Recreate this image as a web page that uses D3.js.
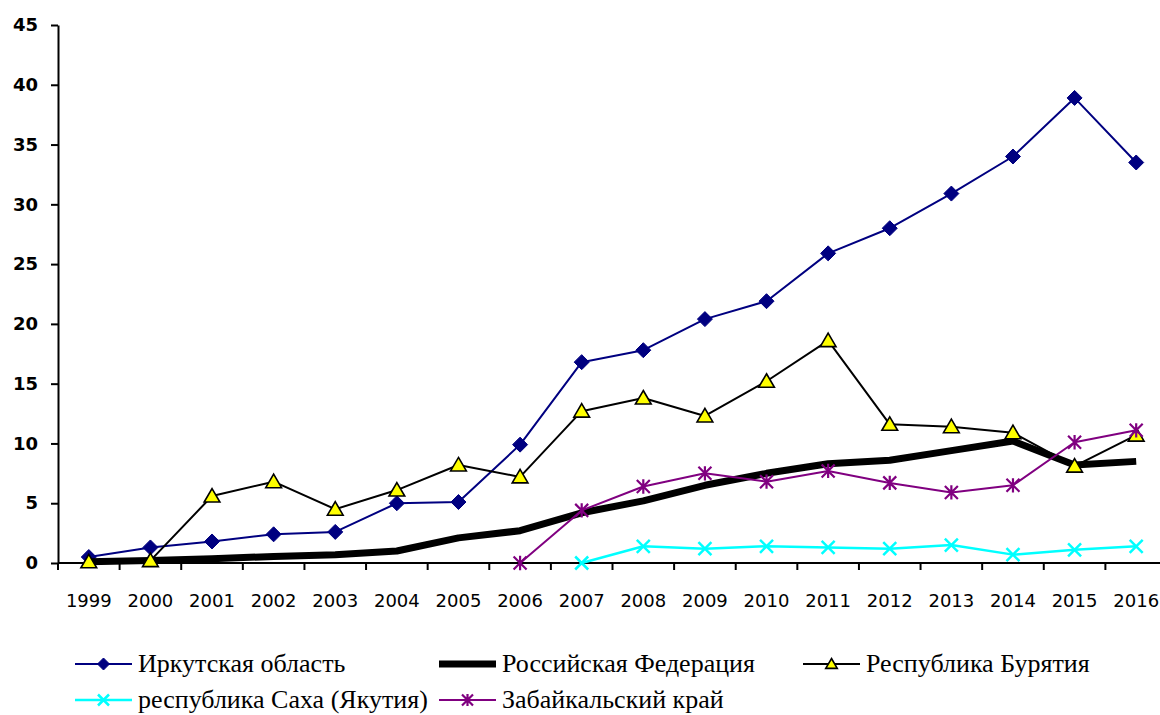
<!DOCTYPE html>
<html>
<head>
<meta charset="utf-8">
<script src="https://cdn.jsdelivr.net/npm/d3@7"></script>
<style>
  html, body { margin: 0; padding: 0; background: #fff; }
  svg { display: block; }
</style>
</head>
<body>
<svg id="chart" width="1160" height="715"></svg>
<script>
// Years on the category axis
const years = ["1999","2000","2001","2002","2003","2004","2005","2006","2007","2008",
               "2009","2010","2011","2012","2013","2014","2015","2016"];

// Value axis tick labels
const yTicks = [0, 5, 10, 15, 20, 25, 30, 35, 40, 45];

// Series values (null = no data for that year)
const irkutsk = [0.5, 1.3, 1.8, 2.4, 2.6, 5.0, 5.1, 9.9, 16.8, 17.8, 20.4, 21.9, 25.9, 28.0, 30.9, 34.0, 38.9, 33.5];
const russia  = [0.1, 0.2, 0.35, 0.55, 0.7, 1.0, 2.1, 2.7, 4.2, 5.2, 6.5, 7.5, 8.3, 8.6, 9.4, 10.2, 8.2, 8.5];
const buryatia = [0.1, 0.2, 5.6, 6.8, 4.5, 6.1, 8.2, 7.2, 12.7, 13.8, 12.3, 15.2, 18.6, 11.6, 11.4, 10.9, 8.1, 10.7];
const sakha = [null, null, null, null, null, null, null, null, 0.0, 1.4, 1.2, 1.4, 1.3, 1.2, 1.5, 0.7, 1.1, 1.4];
const zabaikal = [null, null, null, null, null, null, null, 0.0, 4.4, 6.4, 7.5, 6.8, 7.7, 6.7, 5.9, 6.5, 10.1, 11.1];

const seriesNames = ["Иркутская область", "Российская Федерация", "Республика Бурятия",
                     "республика Саха (Якутия)", "Забайкальский край"];

const series = [
  { name: seriesNames[0], values: irkutsk,  color: "#000080", width: 2,   marker: "diamond" },
  { name: seriesNames[1], values: russia,   color: "#000000", width: 7,   marker: "none" },
  { name: seriesNames[2], values: buryatia, color: "#000000", width: 2,   marker: "triangle" },
  { name: seriesNames[3], values: sakha,    color: "#00FFFF", width: 2.5, marker: "cross" },
  { name: seriesNames[4], values: zabaikal, color: "#800080", width: 2,   marker: "star" }
];

const svg = d3.select("#chart");

const plot = { left: 58, right: 1167, top: 25, bottom: 563 };

const x = d3.scaleBand().domain(years).range([plot.left, plot.right]).padding(0);
const y = d3.scaleLinear().domain([0, 45]).range([plot.bottom, plot.top]);

// Value axis
const yAxis = svg.append("g")
  .attr("transform", `translate(${plot.left},0)`)
  .call(d3.axisLeft(y).tickValues(yTicks).tickSize(7).tickPadding(13).tickSizeOuter(0));
yAxis.select(".domain").attr("stroke", "#000").attr("stroke-width", 2);
yAxis.selectAll(".tick line").attr("stroke", "#000").attr("stroke-width", 2);
yAxis.selectAll(".tick text")
  .attr("font-family", "'DejaVu Sans', Verdana, sans-serif")
  .attr("font-weight", "bold")
  .attr("font-size", 18)
  .attr("fill", "#000");

// Category axis with ticks between categories
const xAxisG = svg.append("g").attr("transform", `translate(0,${plot.bottom})`);
xAxisG.append("line")
  .attr("x1", plot.left).attr("x2", plot.right)
  .attr("y1", 0).attr("y2", 0)
  .attr("stroke", "#000").attr("stroke-width", 2);
const bounds = years.map(d => x(d)).concat([plot.right]);
xAxisG.selectAll("line.tk").data(bounds).join("line")
  .attr("class", "tk")
  .attr("x1", d => d).attr("x2", d => d)
  .attr("y1", 0).attr("y2", 7)
  .attr("stroke", "#000").attr("stroke-width", 2);
xAxisG.selectAll("text").data(years).join("text")
  .attr("x", d => x(d) + x.bandwidth() / 2)
  .attr("y", 44)
  .attr("text-anchor", "middle")
  .attr("font-family", "'DejaVu Sans', Verdana, sans-serif")
  .attr("font-size", 18)
  .attr("fill", "#000")
  .text(d => d);

// Marker drawing
function drawMarker(g, type, cx, cy, s, color) {
  if (type === "diamond") {
    g.append("path")
      .attr("d", `M${cx},${cy - s}L${cx + s},${cy}L${cx},${cy + s}L${cx - s},${cy}Z`)
      .attr("fill", color).attr("stroke", color).attr("stroke-width", 1);
  } else if (type === "triangle") {
    g.append("path")
      .attr("d", `M${cx},${cy - s}L${cx + s * 1.05},${cy + s * 0.8}L${cx - s * 1.05},${cy + s * 0.8}Z`)
      .attr("fill", "#FFFF00").attr("stroke", "#000").attr("stroke-width", 1.6)
      .attr("stroke-linejoin", "miter");
  } else if (type === "cross") {
    g.append("path")
      .attr("d", `M${cx - s},${cy - s}L${cx + s},${cy + s}M${cx - s},${cy + s}L${cx + s},${cy - s}`)
      .attr("stroke", color).attr("stroke-width", 2.5).attr("fill", "none");
  } else if (type === "star") {
    g.append("path")
      .attr("d", `M${cx - s},${cy - s}L${cx + s},${cy + s}M${cx - s},${cy + s}L${cx + s},${cy - s}M${cx},${cy - s * 1.1}L${cx},${cy + s * 1.1}`)
      .attr("stroke", color).attr("stroke-width", 2.2).attr("fill", "none");
  }
}

const line = d3.line()
  .defined(d => d.v !== null)
  .x(d => x(d.year) + x.bandwidth() / 2)
  .y(d => y(d.v));

const plotG = svg.append("g");
series.forEach(s => {
  const pts = years.map((yr, i) => ({ year: yr, v: s.values[i] }));
  const g = plotG.append("g");
  g.append("path")
    .datum(pts)
    .attr("d", line)
    .attr("fill", "none")
    .attr("stroke", s.color)
    .attr("stroke-width", s.width)
    .attr("stroke-linejoin", "round");
  const sizes = { diamond: 7.5, triangle: 7.5, cross: 6.5, star: 6.5 };
  pts.filter(p => p.v !== null).forEach(p => {
    drawMarker(g, s.marker, x(p.year) + x.bandwidth() / 2, y(p.v), sizes[s.marker], s.color);
  });
});

// Legend
const legendPos = [
  { x: 75,  y: 664 },
  { x: 439, y: 664 },
  { x: 803, y: 664 },
  { x: 75,  y: 700 },
  { x: 439, y: 700 }
];
const legend = svg.append("g");
series.forEach((s, i) => {
  const p = legendPos[i];
  const g = legend.append("g");
  g.append("line")
    .attr("x1", p.x).attr("x2", p.x + 57)
    .attr("y1", p.y).attr("y2", p.y)
    .attr("stroke", s.color).attr("stroke-width", s.width);
  if (s.marker !== "none") {
    const ms = { diamond: 6, triangle: 5.5, cross: 5.5, star: 5.5 }[s.marker];
    drawMarker(g, s.marker, p.x + 28.5, p.y, ms, s.color);
  }
  g.append("text")
    .attr("x", p.x + 63)
    .attr("y", p.y + 8)
    .attr("font-family", "'Liberation Serif', 'Times New Roman', serif")
    .attr("font-size", 26)
    .attr("fill", "#000")
    .text(s.name);
});
</script>
</body>
</html>
